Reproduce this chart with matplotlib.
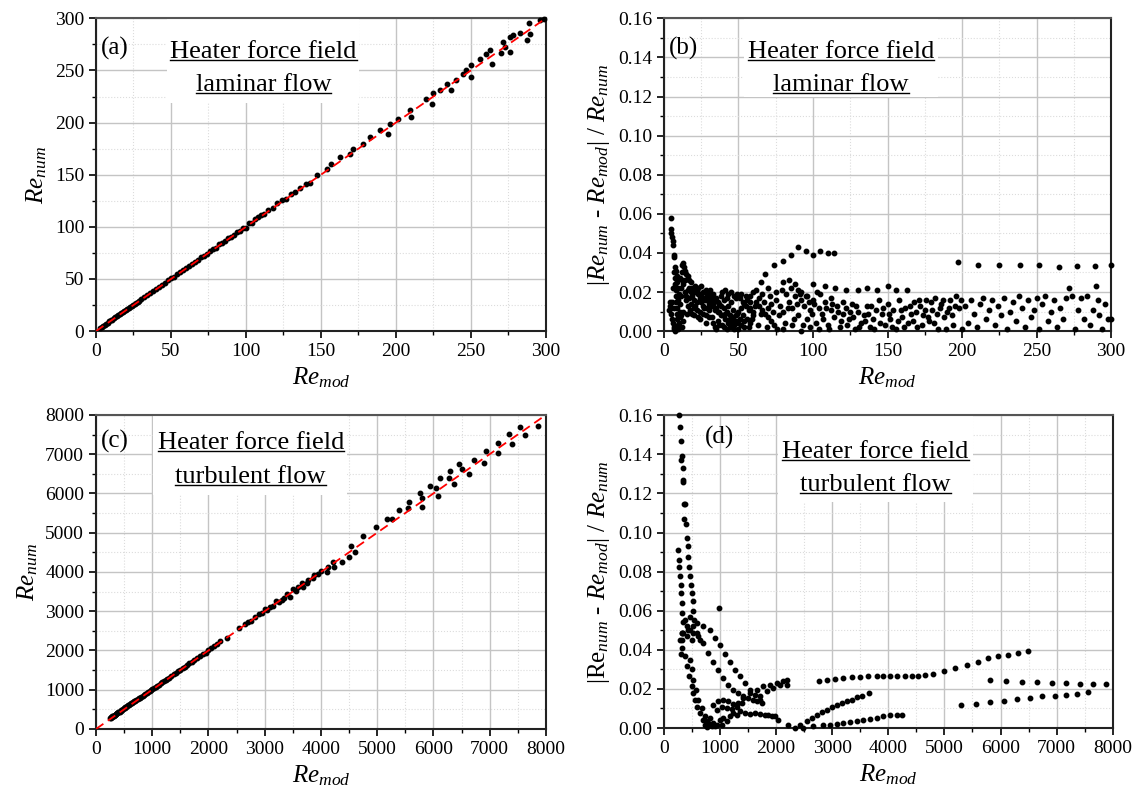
import matplotlib
matplotlib.use("Agg")
import matplotlib.pyplot as plt
from matplotlib.patches import Rectangle
from matplotlib.ticker import MultipleLocator, FormatStrFormatter

plt.rcParams['font.family'] = 'serif'
plt.rcParams['font.serif'] = ['Liberation Serif', 'DejaVu Serif']
plt.rcParams['mathtext.fontset'] = 'custom'
plt.rcParams['mathtext.rm'] = 'Liberation Serif'
plt.rcParams['mathtext.it'] = 'Liberation Serif:italic'

# ---------------- data ----------------
# (a) laminar: Re_mod vs Re_num
a_mod = [3, 4, 5, 6, 7, 8, 9, 10, 11, 12, 13, 14, 15, 16, 17, 18, 19, 20, 21, 22, 23, 24, 25,
         26, 27, 28, 29, 30, 32, 34, 36, 38, 40, 42, 44, 46, 48, 50, 52, 54, 56, 58, 60, 62, 64,
         66, 68, 70, 72, 74, 76, 78, 80, 82, 84, 86, 88, 90, 92, 94, 96, 98, 100, 102, 104, 106,
         108, 110, 112, 115, 118, 121, 124, 127, 130, 133, 136, 140, 142.7, 147.1, 153.8, 157,
         162.7, 169.3, 171.6, 178.2, 182.7, 189.3, 194.9, 196, 201.6, 209.3, 210.4, 220.4, 223.8,
         224.7, 229.3, 233.8, 237, 240.4, 244.7, 247, 250.4, 250.4, 256, 260.4, 262.7, 263.8,
         270.4, 271.3, 272.7, 276, 276, 278, 282.7, 287.5, 288.9, 289.3, 296, 299]
a_num = [3.1, 4.2, 5.1, 6.3, 7.2, 8.1, 9.3, 10.2, 11.1, 12.3, 13.2, 14.3, 15.2, 16.1, 17.3, 18.2,
         19.1, 20.4, 21.2, 22.3, 23.1, 24.4, 25.3, 26.2, 27.4, 28.3, 29.1, 30.5, 32.3, 34.5,
         36.2, 38.6, 40.4, 42.3, 44.7, 46.2, 48.8, 50.5, 52.2, 54.9, 56.3, 58.9, 60.6, 62.2,
         64.8, 66.5, 68.1, 70.9, 72.4, 74.2, 76.9, 78.3, 80.2, 83.1, 84.6, 86.1, 88.9, 90.4,
         92.2, 95.1, 96.3, 98.7, 99.2, 103.4, 104.1, 107.2, 109.5, 111.8, 112.6, 116.4, 118.2,
         122.5, 125.3, 127.1, 131.6, 133.2, 137.4, 141.2, 141.6, 149.5, 155.9, 160.7, 167,
         170.3, 175, 179.9, 186.2, 192.7, 189.5, 199, 203.9, 211.8, 205.4, 223, 218, 228, 231,
         237.4, 231, 240.6, 247, 250, 255, 243.7, 261.4, 266.2, 269.3, 256.6, 266.8, 277,
         272.5, 267.7, 282, 283.7, 285.6, 279.6, 295.5, 285, 298, 299.5]

# (b) laminar: relative deviation, strands
b_mod = [4.7, 4.5, 5.0, 5.4, 5.8, 6.0, 6.5, 6.8, 3.5, 3.8, 4.2, 4.5, 5.0, 5.5, 6.0, 6.5, 7.0, 7.5,
         6.8, 7.2, 7.5, 7.8, 8.0, 8.3, 8.5, 8.8, 9.0, 9.3, 9.6, 7.5, 8.0, 8.4, 9.0, 9.5, 10.0,
         10.2, 10.5, 10.8, 11.0, 11.2, 11.5, 11.8, 12.0, 12.3, 12.8, 13.5, 14.2, 15, 16, 17, 18,
         13, 14, 15, 16, 12.5, 13, 14.5, 16, 17, 18, 19, 20, 21, 22, 23, 24, 25, 26, 27, 18, 20,
         22, 24, 26, 28, 30, 19, 21, 23, 25, 27, 29, 31, 33, 35, 37, 39, 41, 43, 45, 47, 24, 26,
         28, 30, 32, 34, 36, 38, 28, 30, 32, 34, 36, 38, 40, 42, 44, 46, 48, 50, 33, 34, 35, 37,
         39, 41, 43, 45, 47, 49, 51, 53, 55, 57, 40, 42, 44, 46, 48, 50, 52, 54, 56, 58, 60, 62,
         50, 52, 54, 56, 58, 60, 62, 64, 66, 68, 70, 72, 74, 76,
         65, 68, 74, 80, 85, 90, 95, 100, 105, 110, 114,
         70, 75, 80, 84, 88, 92, 96, 100, 108, 115, 122, 130, 136, 143, 150, 156, 163,
         64, 66, 70, 72, 75, 78, 80, 82, 84, 86, 88, 90, 92, 94, 96, 98, 100, 102, 104, 106,
         108, 110, 112, 114, 116, 118, 120, 122, 124, 126, 128, 130, 132, 134, 136, 138, 140,
         142, 144, 146, 148, 150, 152, 154, 156, 158, 160, 162, 164, 166, 168, 170, 172, 174,
         176, 178, 180, 182, 184, 186, 188, 190, 192, 194, 196, 198, 200,
         80, 86, 92, 98, 104, 60, 58, 90, 95, 105, 112, 120,
         197, 211, 225, 239, 252, 265, 277, 289, 300,
         202, 204, 206, 208, 210, 212, 214, 216, 218, 220, 222, 224, 226, 228, 230, 232, 234,
         236, 238, 240, 242, 244, 246, 248, 250, 252, 254, 256, 258, 260, 262, 264, 266, 268,
         270, 272, 274, 276, 278, 280, 282, 284, 286, 288, 290, 291, 292, 294, 296, 298, 300]
b_err = [0.058, 0.052, 0.050, 0.048, 0.046, 0.044, 0.039, 0.038, 0.011, 0.013, 0.015, 0.012,
         0.009, 0.006, 0.004, 0.002, 0.001, 0.000, 0.030, 0.027, 0.024, 0.021, 0.018, 0.015,
         0.012, 0.009, 0.006, 0.003, 0.001, 0.033, 0.031, 0.028, 0.025, 0.022, 0.019, 0.004,
         0.007, 0.010, 0.014, 0.018, 0.022, 0.026, 0.030, 0.034, 0.035, 0.033, 0.031, 0.029,
         0.028, 0.026, 0.025, 0.024, 0.020, 0.016, 0.013, 0.005, 0.010, 0.018, 0.021, 0.022,
         0.020, 0.018, 0.016, 0.023, 0.021, 0.019, 0.017, 0.015, 0.013, 0.012, 0.014, 0.012,
         0.011, 0.010, 0.009, 0.008, 0.007, 0.022, 0.020, 0.022, 0.023, 0.020, 0.018, 0.016,
         0.014, 0.012, 0.010, 0.008, 0.006, 0.004, 0.002, 0.001, 0.019, 0.017, 0.016, 0.014,
         0.013, 0.011, 0.010, 0.008, 0.021, 0.019, 0.018, 0.016, 0.015, 0.013, 0.012, 0.010,
         0.008, 0.007, 0.005, 0.004, 0.004, 0.002, 0.001, 0.003, 0.020, 0.021, 0.019, 0.020,
         0.018, 0.019, 0.017, 0.015, 0.013, 0.011, 0.002, 0.001, 0.003, 0.005, 0.008, 0.010,
         0.012, 0.014, 0.016, 0.018, 0.020, 0.021,
         0.001, 0.003, 0.002, 0.006, 0.004, 0.008, 0.015, 0.013, 0.011, 0.009, 0.007, 0.005,
         0.003, 0.001,
         0.025, 0.029, 0.034, 0.036, 0.039, 0.043, 0.041, 0.039, 0.041, 0.040, 0.040,
         0.022, 0.020, 0.025, 0.026, 0.024, 0.020, 0.018, 0.024, 0.023, 0.022, 0.021, 0.021,
         0.022, 0.021, 0.023, 0.021, 0.021,
         0.017, 0.019, 0.012, 0.014, 0.016, 0.013, 0.010, 0.019, 0.015, 0.012, 0.018, 0.008,
         0.016, 0.013, 0.006, 0.011, 0.016, 0.004, 0.012, 0.009, 0.015, 0.003, 0.011, 0.007,
         0.013, 0.002, 0.009, 0.012, 0.006, 0.014, 0.001, 0.010, 0.004, 0.008, 0.013, 0.002,
         0.006, 0.011, 0.016, 0.009, 0.003, 0.014, 0.006, 0.011, 0.001, 0.016, 0.007, 0.012,
         0.004, 0.009, 0.015, 0.002, 0.013, 0.008, 0.016, 0.005, 0.011, 0.017, 0.001, 0.014,
         0.007, 0.010, 0.016, 0.003, 0.018, 0.012, 0.001,
         0.001, 0.003, 0.000, 0.002, 0.001, 0.010, 0.012, 0.021, 0.018, 0.019, 0.017, 0.015,
         0.0354, 0.0337, 0.0337, 0.0337, 0.0337, 0.0330, 0.0334, 0.0332, 0.0337,
         0.013, 0.004, 0.016, 0.009, 0.002, 0.014, 0.017, 0.006, 0.011, 0.016, 0.003, 0.013,
         0.008, 0.017, 0.001, 0.010, 0.015, 0.005, 0.018, 0.012, 0.002, 0.016, 0.007, 0.011,
         0.017, 0.001, 0.014, 0.018, 0.005, 0.010, 0.016, 0.002, 0.012, 0.006, 0.017, 0.022,
         0.018, 0.001, 0.011, 0.017, 0.006, 0.018, 0.003, 0.011, 0.023, 0.016, 0.008, 0.001,
         0.014, 0.006, 0.006]

# (b) laminar: scattered cloud between the strands
b_mod_cloud = [5.5, 6.2, 7, 8.5, 9.2, 10.5, 11.5, 12, 14, 15.5, 16.5, 17.5, 19, 20, 21, 22, 23,
               24, 25, 26, 27, 28, 29, 30, 31, 32, 33, 35, 36, 37, 38, 39, 40, 41, 42, 43, 44, 45,
               46, 47, 48, 49, 51, 52, 53, 54, 55, 57, 58, 59, 61, 63, 65, 67, 69, 71, 73, 77, 79,
               81, 83, 85, 87, 89, 91, 93, 97, 99, 101, 103, 107, 109, 111, 113, 117, 119, 123,
               125, 127, 129, 131, 135, 137, 139, 141, 145, 147, 151, 153, 157, 159, 161, 165,
               167, 169, 171, 173, 175, 177, 179, 181, 183, 185, 187, 189, 191, 193, 195, 199]
b_err_cloud = [0.015, 0.022, 0.012, 0.002, 0.016, 0.027, 0.008, 0.002, 0.026, 0.009, 0.017,
               0.011, 0.009, 0.008, 0.013, 0.015, 0.007, 0.006, 0.019, 0.020, 0.016, 0.004,
               0.012, 0.011, 0.021, 0.007, 0.019, 0.017, 0.005, 0.014, 0.018, 0.003, 0.016,
               0.009, 0.017, 0.013, 0.006, 0.015, 0.011, 0.003, 0.017, 0.009, 0.006, 0.019,
               0.008, 0.005, 0.018, 0.002, 0.015, 0.006, 0.013, 0.003, 0.009, 0.015, 0.002,
               0.018, 0.010, 0.008, 0.021, 0.004, 0.012, 0.022, 0.006, 0.014, 0.019, 0.003,
               0.015, 0.009, 0.014, 0.020, 0.006, 0.012, 0.001, 0.014, 0.010, 0.005, 0.003,
               0.010, 0.007, 0.013, 0.002, 0.005, 0.009, 0.013, 0.001, 0.004, 0.012, 0.009,
               0.002, 0.005, 0.011, 0.002, 0.013, 0.005, 0.010, 0.016, 0.003, 0.011, 0.007,
               0.015, 0.004, 0.009, 0.012, 0.016, 0.001, 0.012, 0.008, 0.013, 0.016]

# (c) turbulent: Re_mod vs Re_num
c_mod = [250, 260, 270, 280, 290, 300, 310, 320, 330, 340, 350, 360, 370, 380, 400, 410, 420,
         440, 450, 460, 480, 500, 510, 520, 540, 560, 570, 580, 600, 620, 640, 660, 680, 700,
         720, 740, 760, 780, 800, 830, 860, 880, 900, 930, 960, 980, 1000, 1030, 1060, 1090,
         1120, 1150, 1180, 1210, 1240, 1270, 1300, 1340, 1380, 1420, 1460, 1500, 1540, 1580,
         1620, 1660, 1700, 1750, 1800, 1850, 1900, 1950, 2000, 2050, 2100, 2150, 2200,
         2330, 2550, 2650, 2700, 2760, 2830, 2900, 2950, 3000, 3050, 3100, 3150, 3200, 3250,
         3300, 3350, 3400, 3450, 3500, 3550, 3600, 3657, 3675, 3746, 3775, 3864, 3882, 3953,
         3995, 4102, 4119, 4220, 4237, 4369, 4504, 4528, 4605, 4753, 4978, 5180, 5257, 5387,
         5541, 5570, 5760, 5790, 5790, 5938, 6040, 6075, 6116, 6270, 6294, 6359, 6459, 6501,
         6637, 6715, 6898, 6933, 7142, 7153, 7348, 7396, 7538, 7627, 7864]
c_num = [290, 280, 310, 300, 330, 320, 340, 330, 360, 350, 370, 380, 395, 400, 420, 440, 445,
         460, 480, 490, 510, 525, 540, 550, 565, 590, 600, 610, 625, 650, 665, 690, 700, 720,
         745, 760, 780, 800, 820, 845, 875, 900, 910, 945, 970, 990, 1010, 1040, 1070, 1100,
         1130, 1160, 1190, 1215, 1250, 1280, 1310, 1345, 1390, 1430, 1470, 1510, 1545, 1590,
         1630, 1670, 1710, 1760, 1810, 1860, 1920, 1940, 2010, 2060, 2120, 2160, 2240,
         2330, 2560, 2680, 2720, 2750, 2850, 2930, 2960, 3050, 3030, 3110, 3130, 3270, 3230,
         3290, 3330, 3440, 3370, 3560, 3510, 3610, 3712, 3610, 3712, 3797, 3840, 3924, 3949,
         4034, 4008, 4135, 4263, 4135, 4263, 4390, 4671, 4518, 4918, 5155, 5351, 5351, 5580,
         5623, 5792, 6006, 5878, 5665, 6192, 6133, 5945, 6388, 6388, 6582, 6234, 6752, 6617,
         6497, 6854, 6770, 7083, 7295, 7024, 7509, 7262, 7703, 7491, 7720]

# (d) turbulent: relative deviation
d_mod = [273, 285, 303, 315, 309, 333, 344, 333, 357, 374, 362, 392, 404, 422, 434, 446, 463,
         481, 493, 511, 523, 540,
         255, 267, 273, 285, 297, 303, 315, 315, 327, 315, 297,
         374, 404, 451, 493, 523, 552, 594, 642, 689, 731, 760,
         463, 493, 523, 570, 612, 671, 731, 790, 849,
         374, 463, 582, 701, 820, 909, 998, 1087, 1176, 1265, 1354, 1443, 1533, 1622, 1711, 1740,
         344, 434, 523, 612, 701, 790, 879, 968, 1057, 1146, 1235, 1325, 1414, 1503, 1592, 1651,
         315, 285, 315, 344, 404, 463, 523, 582, 642, 404, 493,
         1533, 1651, 1770, 1889, 2008, 2126, 2186, 1711, 1830, 1948, 2067, 2186,
         879, 968, 1057, 1146, 1235, 1325, 1414, 939, 1028, 1117, 1206, 1295, 1384,
         760, 820, 879, 939, 998, 1057, 1117, 1176, 1235, 1295, 1354, 820, 909, 1028,
         1443, 1533, 1622, 1711, 1800, 1859, 1919, 1978, 2037,
         2216, 2334, 2424, 2542, 2631, 2720, 2810, 2899, 2988, 3077, 3166, 3255, 3344, 3434,
         3523, 3660,
         2483, 2661, 2839, 2958, 3077, 3196, 3315, 3434, 3552, 3671, 3790, 3909, 4027, 4146,
         4235,
         2768, 2899, 3047, 3196, 3344, 3493, 3641, 3790, 3909, 4027, 4146, 4295, 4413, 4532,
         4651, 4788, 4990, 5186, 5394, 5602, 5780, 5958, 6136, 6315, 6493,
         5809, 6106, 6374, 6659, 6926, 7176, 7425, 7651, 7888,
         5293, 5560, 5809, 6059, 6297, 6522, 6748, 6968, 7164, 7366, 7562,
         986]
d_err = [0.160, 0.154, 0.1466, 0.139, 0.137, 0.133, 0.127, 0.126, 0.1147, 0.1147, 0.107, 0.1045,
         0.097, 0.093, 0.0877, 0.0826, 0.0775, 0.073, 0.069, 0.0648, 0.0596, 0.055,
         0.091, 0.086, 0.0826, 0.0775, 0.073, 0.069, 0.064, 0.0588, 0.0486, 0.045, 0.038,
         0.0366, 0.0315, 0.0264, 0.0213, 0.0179, 0.0145, 0.011, 0.0077, 0.0043, 0.0017, 0.0005,
         0.035, 0.030, 0.0247, 0.0196, 0.0145, 0.0102, 0.006, 0.0026, 0.0009,
         0.0554, 0.057, 0.0537, 0.052, 0.050, 0.046, 0.0426, 0.038, 0.034, 0.0298, 0.0264,
         0.023, 0.0196, 0.017, 0.0145, 0.0128,
         0.0486, 0.050, 0.0486, 0.0469, 0.0435, 0.0383, 0.034, 0.0298, 0.0256, 0.0221, 0.0196,
         0.0179, 0.0162, 0.0153, 0.0145, 0.0136,
         0.0486, 0.045, 0.041, 0.054, 0.052, 0.050, 0.052, 0.0486, 0.045, 0.047, 0.045,
         0.0179, 0.0196, 0.0213, 0.0221, 0.023, 0.0239, 0.0244, 0.0162, 0.0187, 0.0204, 0.0218,
         0.0221,
         0.012, 0.0136, 0.0145, 0.0136, 0.0124, 0.0128, 0.0153, 0.0094, 0.011, 0.0102, 0.0097,
         0.011, 0.0128,
         0.0034, 0.005, 0.0026, 0.0017, 0.0043, 0.005, 0.0034, 0.006, 0.0077, 0.0068, 0.0085,
         0.0017, 0.0009, 0.0017,
         0.0077, 0.0073, 0.0077, 0.0072, 0.0068, 0.0068, 0.0063, 0.006, 0.0043,
         0.0017, 0.0, 0.0017, 0.0034, 0.005, 0.0068, 0.008, 0.0094, 0.0107, 0.0119, 0.0128,
         0.0136, 0.0145, 0.0157, 0.0162, 0.0179,
         0.0, 0.0009, 0.0014, 0.0017, 0.0022, 0.0026, 0.0031, 0.0034, 0.0043, 0.0046, 0.005,
         0.006, 0.0065, 0.0068, 0.0068,
         0.0239, 0.0244, 0.025, 0.0256, 0.0261, 0.0261, 0.0264, 0.0264, 0.0268, 0.0264, 0.0268,
         0.0268, 0.0264, 0.0264, 0.0271, 0.0274, 0.0293, 0.0305, 0.032, 0.0337, 0.0356, 0.037,
         0.0375, 0.0383, 0.0395,
         0.0244, 0.0239, 0.0235, 0.0233, 0.0232, 0.0228, 0.0227, 0.0227, 0.0225,
         0.0119, 0.0123, 0.0133, 0.014, 0.0148, 0.0153, 0.0162, 0.0165, 0.017, 0.0176, 0.0182,
         0.0613]

re_num = r'$Re_{num}$'
re_mod = r'$Re_{mod}$'
err_lab_b = r'$|Re_{num}$ - $Re_{mod}|$ / $Re_{num}$'
err_lab_d = r'$|\mathrm{Re}_{num}$ - $Re_{mod}|$ / $Re_{num}$'

# ---------------- figure ----------------
fig = plt.figure(figsize=(11.36, 7.96), dpi=100)
axa = fig.add_axes([0.0845, 0.584, 0.396, 0.393])
axb = fig.add_axes([0.5845, 0.584, 0.3935, 0.393])
axc = fig.add_axes([0.0845, 0.0842, 0.396, 0.3945])
axd = fig.add_axes([0.5845, 0.0854, 0.395, 0.393])


def style(ax, xmax, xmaj, xmin, ymax, ymaj, ymin):
    ax.set_xlim(0, xmax)
    ax.set_ylim(0, ymax)
    ax.xaxis.set_major_locator(MultipleLocator(xmaj))
    ax.xaxis.set_minor_locator(MultipleLocator(xmin))
    ax.yaxis.set_major_locator(MultipleLocator(ymaj))
    ax.yaxis.set_minor_locator(MultipleLocator(ymin))
    ax.set_axisbelow(True)
    ax.grid(which='major', color='#c4c4c4', lw=1.0, ls='-')
    ax.grid(which='minor', color='#dcdcdc', lw=0.8, ls=':')
    ax.tick_params(which='major', direction='out', length=5, width=1.2, labelsize=14,
                   top=False, right=False)
    ax.tick_params(which='minor', direction='out', length=3, width=1.0,
                   top=False, right=False)
    for s in ax.spines.values():
        s.set_linewidth(1.5)
        s.set_color('#222222')
    ax.spines['top'].set_color('#555555')


def caption(ax, tag, tag_xy, lines, cx, ys, box):
    bx0, bx1, by0 = box
    ax.add_patch(Rectangle((bx0, by0), bx1 - bx0, 1.02 - by0, transform=ax.transAxes,
                           facecolor='white', edgecolor='none', zorder=1, clip_on=False))
    ax.text(tag_xy[0], tag_xy[1], tag, transform=ax.transAxes, fontsize=18,
            ha='left', va='center', zorder=5)
    r = fig.canvas.get_renderer()
    inv = ax.transAxes.inverted()
    for s, y in zip(lines, ys):
        t = ax.text(cx, y, s, transform=ax.transAxes, fontsize=19, ha='center',
                    va='center', zorder=5)
        bb = t.get_window_extent(r)
        (u0, v0), (u1, _) = inv.transform([(bb.x0, bb.y0 + 3), (bb.x1, bb.y0 + 3)])
        ax.plot([u0, u1], [v0, v0], transform=ax.transAxes, color='black', lw=1.0,
                zorder=5, clip_on=False)


mk = dict(ls='none', marker='o', ms=3.2, color='black', mec='black', zorder=3, clip_on=False)
dash = dict(color='red', lw=1.3, ls=(0, (5, 3)), zorder=4)

# (a)
style(axa, 300, 50, 25, 300, 50, 25)
axa.plot(a_mod, a_num, **mk)
axa.plot([0, 300], [0, 300], **dash)
axa.set_xlabel(re_mod, fontsize=18)
axa.set_ylabel(re_num, fontsize=18)
caption(axa, '(a)', (0.01, 0.905), ['Heater force field', 'laminar flow'], 0.372,
        [0.891, 0.786], (0.158, 0.584, 0.728))

# (b)
style(axb, 300, 50, 25, 0.16, 0.02, 0.01)
axb.plot(b_mod, b_err, **mk)
axb.plot(b_mod_cloud, b_err_cloud, **mk)
axb.yaxis.set_major_formatter(FormatStrFormatter('%.2f'))
axb.set_xlabel(re_mod, fontsize=18)
axb.set_ylabel(err_lab_b, fontsize=18)
caption(axb, '(b)', (0.01, 0.905), ['Heater force field', 'laminar flow'], 0.396,
        [0.891, 0.786], (0.18, 0.613, 0.748))

# (c)
style(axc, 8000, 1000, 500, 8000, 1000, 500)
axc.plot(c_mod, c_num, **mk)
axc.plot([0, 8000], [0, 8000], **dash)
axc.set_xlabel(re_mod, fontsize=18)
axc.set_ylabel(re_num, fontsize=18)
caption(axc, '(c)', (0.01, 0.915), ['Heater force field', 'turbulent flow'], 0.344,
        [0.911, 0.803], (0.127, 0.558, 0.745))

# (d)
style(axd, 8000, 1000, 500, 0.16, 0.02, 0.01)
axd.plot(d_mod, d_err, **mk)
axd.yaxis.set_major_formatter(FormatStrFormatter('%.2f'))
axd.set_xlabel(re_mod, fontsize=18)
axd.set_ylabel(err_lab_d, fontsize=18)
caption(axd, '(d)', (0.091, 0.93), ['Heater force field', 'turbulent flow'], 0.471,
        [0.882, 0.776], (0.254, 0.688, 0.722))

fig.savefig('out.png', dpi=100)
